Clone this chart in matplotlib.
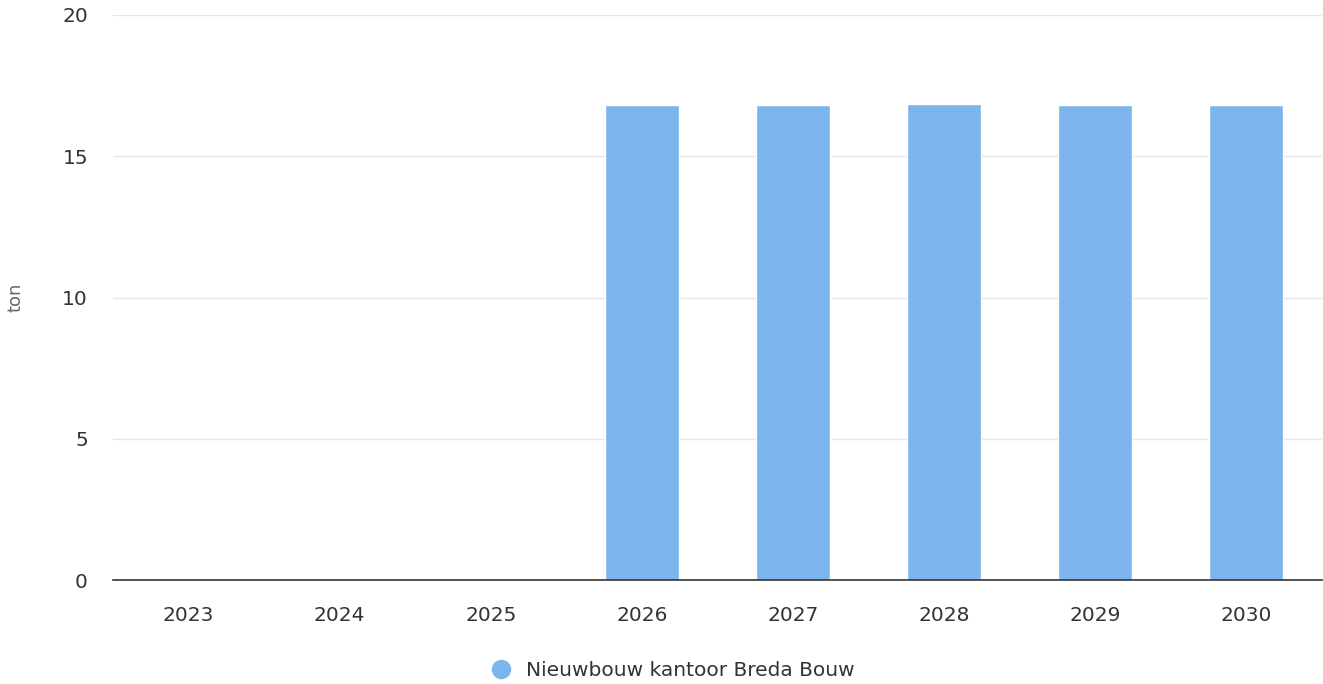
import matplotlib
matplotlib.use("Agg")
import matplotlib.pyplot as plt
from matplotlib.lines import Line2D

plt.rcParams["font.family"] = ["DejaVu Sans"]

years = ["2023", "2024", "2025", "2026", "2027", "2028", "2029", "2030"]
values = [0, 0, 0, 16.8, 16.8, 16.85, 16.8, 16.8]
series_name = "Nieuwbouw kantoor Breda Bouw"
y_ticks = [0, 5, 10, 15, 20]

W, H = 1323, 684
fig = plt.figure(figsize=(W / 100, H / 100), dpi=100)
ax = fig.add_axes([113 / W, 1 - 580 / H, (1322 - 113) / W, (580 - 15) / H])

x = list(range(len(years)))
ax.bar(x, values, width=0.49, color="#7cb5ec", edgecolor="white", linewidth=1, zorder=3)

ax.set_xlim(-0.5, len(years) - 0.5)
ax.set_ylim(0, 20)
ax.set_yticks(y_ticks)
ax.set_yticklabels([str(t) for t in y_ticks])
ax.set_xticks(x)
ax.set_xticklabels(years)
ax.grid(axis="y", color="#e6e6e6", linewidth=1, zorder=0)
ax.set_axisbelow(True)

for s in ["top", "right", "left"]:
    ax.spines[s].set_visible(False)
ax.spines["bottom"].set_color("#333333")
ax.spines["bottom"].set_linewidth(1.2)
ax.spines["bottom"].set_zorder(4)

ax.tick_params(axis="y", length=0, pad=18, labelsize=14.5, labelcolor="#333333")
ax.tick_params(axis="x", length=0, pad=19, labelsize=14.5, labelcolor="#333333")

ax.set_ylabel("ton", fontsize=13, color="#666666", labelpad=27)

handle = Line2D([], [], marker="o", linestyle="none", markersize=13,
                markerfacecolor="#7cb5ec", markeredgecolor="#7cb5ec")
fig.legend([handle], [series_name], loc="center", bbox_to_anchor=(0.5045, 1 - 671 / H),
           frameon=False, fontsize=14.5, handletextpad=0.25, labelcolor="#333333")

fig.savefig("out.png", dpi=100)
